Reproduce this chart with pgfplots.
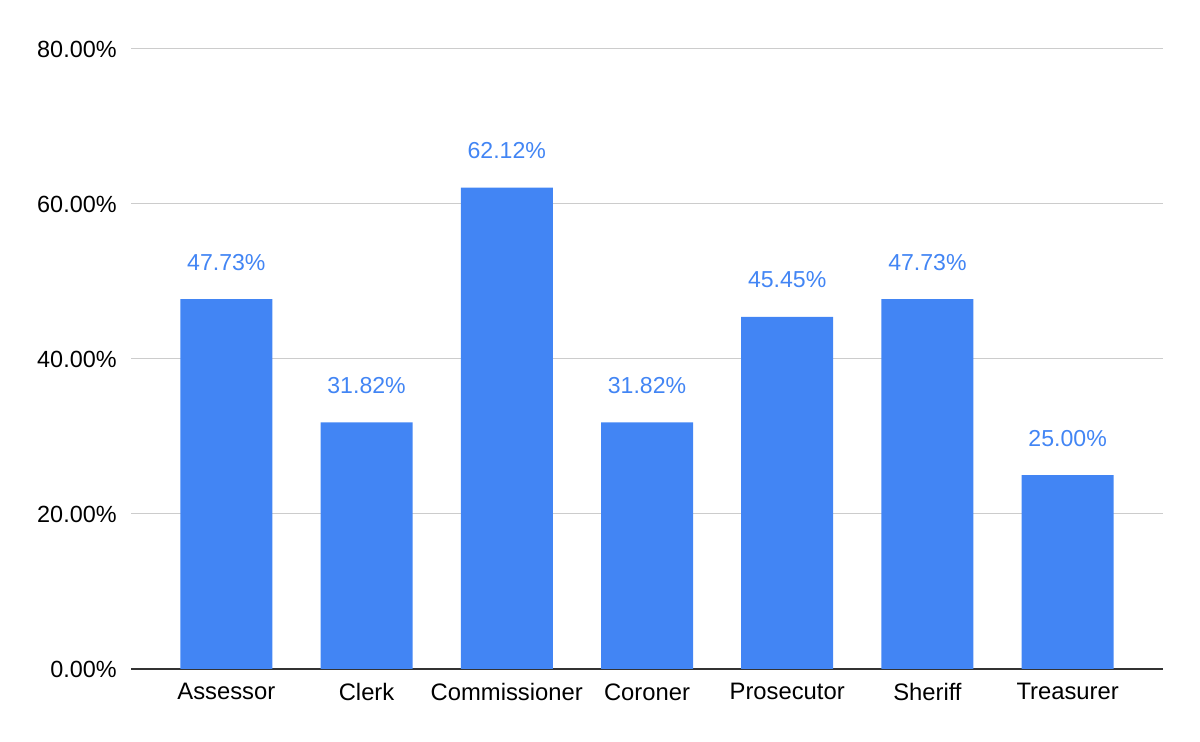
\documentclass[border=0pt]{standalone}
\usepackage{fontspec}
\setmainfont{Liberation Sans}
\usepackage{pgfplots}
\pgfplotsset{compat=1.18}
\definecolor{barblue}{HTML}{4285F4}
\definecolor{gridgray}{HTML}{CCCCCC}
\definecolor{axisdark}{HTML}{333333}
\begin{document}
\begin{tikzpicture}
\useasboundingbox (0,0) rectangle (600pt,371pt);
\begin{axis}[
  at={(65.5pt,36.5pt)}, anchor=south west,
  scale only axis,
  width=516pt, height=310pt,
  xmin=-0.68, xmax=6.68,
  ymin=0, ymax=80,
  xtick={0,1,2,3,4,5,6},
  xticklabels={Assessor,Clerk,Commissioner,Coroner,Prosecutor,Sheriff,Treasurer},
  ytick={0,20,40,60,80},
  yticklabels={0.00\%,20.00\%,40.00\%,60.00\%,80.00\%},
  major tick length=0pt,
  axis line style={draw=none},
  ymajorgrids,
  grid style={gridgray, line width=0.5pt},
  extra y ticks={0},
  extra y tick labels={},
  extra y tick style={grid style={axisdark, line width=1pt}},
  yticklabel style={font=\fontsize{11.7}{13}\selectfont, text=black, inner sep=0pt, xshift=-7pt},
  xticklabel style={font=\fontsize{11.9}{13}\selectfont, text=black, inner sep=0pt, yshift=-7pt},
  /pgf/number format/assume math mode=true,
  ybar,
  bar width=46pt,
  nodes near coords={\pgfmathprintnumber[fixed,fixed zerofill,precision=2]{\pgfplotspointmeta}\%},
  every node near coord/.append style={font=\fontsize{11.55}{13}\selectfont, text=barblue, anchor=center, yshift=18.5pt, inner sep=0pt},
  clip=false,
]
\addplot[fill=barblue, draw=none] coordinates {
  (0,47.73) (1,31.82) (2,62.12) (3,31.82) (4,45.45) (5,47.73) (6,25.00)
};
\end{axis}
\end{tikzpicture}
\end{document}
